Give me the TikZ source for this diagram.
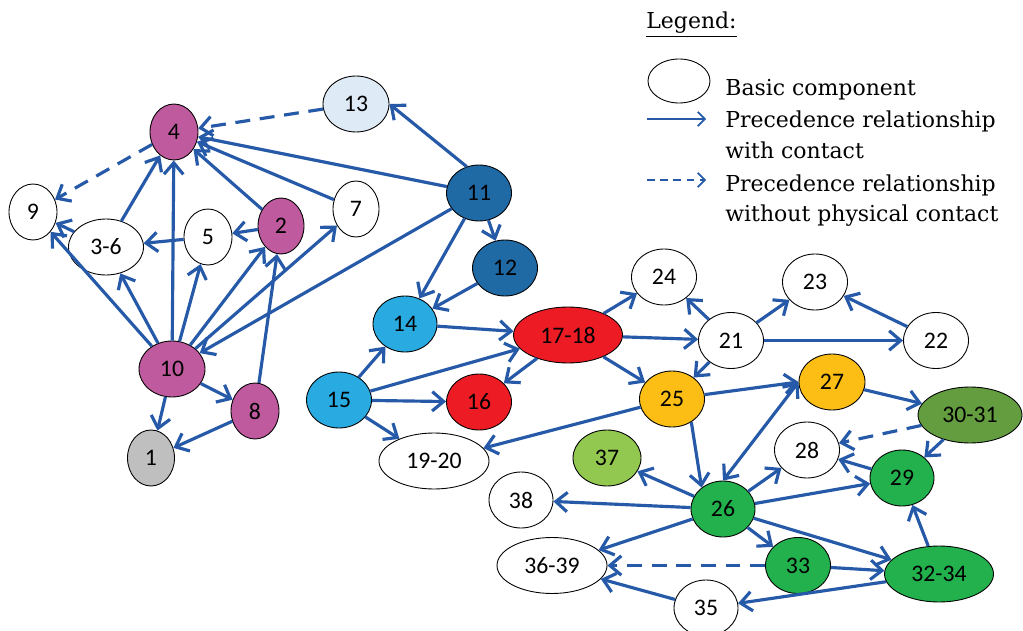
\documentclass[tikz,border=0pt]{standalone}
\usepackage{fontspec}
\setmainfont{Carlito}
\newfontfamily\legendfont{DejaVu Serif}
\usepackage{tikz}
\usetikzlibrary{arrows.meta,shapes.geometric}
\usepackage{xcolor}
\definecolor{LinkB}  {RGB}{38,  90, 168}
\definecolor{PlumM}  {RGB}{192, 90, 158}
\definecolor{NavyM}  {RGB}{31, 105, 165}
\definecolor{SkyM}   {RGB}{41, 171, 226}
\definecolor{SkyL}   {RGB}{222,235, 247}
\definecolor{RedM}   {RGB}{237, 28,  36}
\definecolor{GoldM}  {RGB}{252,190,  20}
\definecolor{OliveM} {RGB}{99, 157,  64}
\definecolor{GreenM} {RGB}{34, 177,  76}
\definecolor{LimeM}  {RGB}{146,200,  80}
\definecolor{GreyM}  {RGB}{191,191, 191}

\tikzset{
  part/.style={ellipse,draw=black,line width=0.5pt,inner sep=0pt,
               minimum height=1.12cm,font=\fontsize{13.5}{16}\selectfont},
  prec/.style={->,>={Straight Barb[length=6.5pt,width=11pt]},LinkB,line width=1.8pt},
  precnc/.style={prec,dash pattern=on 8.5pt off 5.5pt},
  legarrow/.style={->,>={Straight Barb[length=4pt,width=8pt]},LinkB,line width=1pt},
  legtext/.style={anchor=base west,inner sep=0pt,font=\legendfont\fontsize{12.5}{15}\selectfont}
}

\begin{document}
\begin{tikzpicture}[x=0.02cm,y=-0.02cm]
    \useasboundingbox (0,0) rectangle (1023,631);
    \foreach \n/\x/\y/\w/\c/\t in {
      n13/356/104/66/SkyL/13,
      n4/174/132/48/PlumM/4,
      n9/33/212/48/white/9,
      n3t6/106/247/75/white/3-6,
      n5/208/237/48/white/5,
      n2/281/226/46/PlumM/2,
      n7/356/209/46/white/7,
      n11/479/193/65/NavyM/11,
      n12/505/268/65/NavyM/12,
      n10/172/369/66/PlumM/10,
      n8/255/411/48/PlumM/8,
      n1/151/458/47/GreyM/1,
      n14/405/324/64/SkyM/14,
      n15/339/400/65/SkyM/15,
      n17t18/568/335/109/RedM/17-18,
      n16/479/402/65/RedM/16,
      n19t20/434/461/110/white/19-20,
      n24/664/277/65/white/24,
      n21/731/340.5/65/white/21,
      n23/815/282/65/white/23,
      n22/936/340.5/65/white/22,
      n25/672/399/65/GoldM/25,
      n27/832/382/66/GoldM/27,
      n30t31/970/415/104/OliveM/30-31,
      n28/807/450/65/white/28,
      n29/902/478/64/GreenM/29,
      n37/607/458/68/LimeM/37,
      n38/521/500/64/white/38,
      n26/723/509/64/GreenM/26,
      n36t39/552/565.5/110/white/36-39,
      n33/798/565.5/65/GreenM/33,
      n32t34/939/574/109/GreenM/32-34,
      n35/706/608/64/white/35}{
      \node[part,fill=\c,minimum width=\w*0.02cm] (\n) at (\x,\y) {\t};
    }
    \foreach \a/\b in {
      n11/n4, n7/n4, n2/n4, n3t6/n4, n10/n4, n3t6/n9, n5/n3t6,
      n2/n5, n10/n9, n10/n3t6, n10/n5, n10/n2, n10/n7, n11/n10, n10/n1,
      n10/n8, n8/n1, n8/n2, n11/n12, n11/n14, n12/n14, n14/n17t18,
      n15/n14, n15/n17t18, n15/n16, n15/n19t20, n17t18/n16, n17t18/n24,
      n17t18/n21, n17t18/n25, n21/n24, n21/n23, n21/n22, n22/n23, n21/n25,
      n25/n19t20, n27/n30t31, n30t31/n29, n29/n28,
      n26/n28, n26/n29, n26/n37, n26/n38, n26/n36t39, n26/n33, n26/n32t34,
      n33/n32t34, n32t34/n29, n32t34/n35, n35/n36t39}{
      \draw[prec] (\a) -- (\b);
    }
    \draw[prec] (n11.115) -- (n13.east);
    \draw[prec] (n25) -- (n27.west);
    \draw[prec] (n25.-50) -- (n26.135);
    \draw[prec,<->] (n26.north) -- (n27.west);
    \foreach \a/\b in {n13/n4, n4/n9, n30t31/n28, n33/n36t39}{
      \draw[precnc] (\a) -- (\b);
    }
    \node[legtext] (legtitle) at (646,29) {\underline{Legend:}};
    \node[part,minimum width=62*0.02cm,minimum height=44*0.02cm] (legpart) at (679,81) {};
    \node[legtext] (legbasic) at (725,96) {Basic component};
    \coordinate (lsa) at (647,119);
    \coordinate (lsb) at (706,119);
    \draw[legarrow] (lsa) -- (lsb);
    \node[legtext] (legwith) at (725,128) {Precedence relationship};
    \node[legtext] (legwith2) at (725,159) {with contact};
    \coordinate (lda) at (647,180);
    \coordinate (ldb) at (706,180);
    \draw[legarrow,dash pattern=on 4.5pt off 3pt] (lda) -- (ldb);
    \node[legtext] (legwo) at (725,192) {Precedence relationship};
    \node[legtext] (legwo2) at (725,222) {without physical contact};
\end{tikzpicture}
\end{document}
